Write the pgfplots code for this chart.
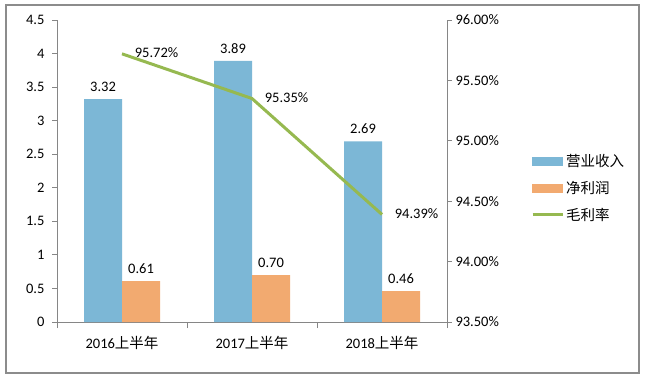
\documentclass[border=0pt]{standalone}
\usepackage{fontspec}
\setmainfont{Carlito}
\newfontfamily\cjk{Noto Sans CJK SC}
\usepackage{pgfplots}
\pgfplotsset{compat=1.18}
\definecolor{cblue}{RGB}{124,183,214}
\definecolor{corange}{RGB}{242,170,112}
\definecolor{cgreen}{RGB}{150,185,80}
\definecolor{axgray}{RGB}{134,134,134}
\definecolor{framegray}{RGB}{140,140,140}
\newcommand{\lblfont}{\fontsize{14.5bp}{17bp}\selectfont}
\begin{document}
\begin{tikzpicture}[x=1bp,y=1bp]
\useasboundingbox (0,0) rectangle (645,378);
\fill[white] (0,0) rectangle (645,378);
\draw[line width=2.2bp, framegray] (6,5) rectangle (639,373);
\begin{axis}[
  at={(57bp,56bp)}, anchor=south west,
  width=390bp, height=302bp, scale only axis,
  xmin=-0.5, xmax=2.5, ymin=0, ymax=4.5,
  ytick={0,0.5,1,1.5,2,2.5,3,3.5,4,4.5},
  xtick={0,1,2},
  xticklabels={2016{\cjk 上半年},2017{\cjk 上半年},2018{\cjk 上半年}},
  minor xtick={-0.5,0.5,1.5,2.5},
  major x tick style={draw=none},
  minor tick length=6bp, major tick length=5bp,
  tick align=outside,
  axis x line*=bottom, axis y line*=left,
  axis line style={-, draw=axgray, line width=0.8bp},
  tick style={draw=axgray, line width=0.8bp},
  /pgf/number format/assume math mode=true,
  tick label style={font=\lblfont},
  y tick label style={xshift=-4bp},
  x tick label style={yshift=-6bp},
  ybar=0pt, bar width=38bp,
  clip=false,
  nodes near coords={\pgfmathprintnumber[fixed,fixed zerofill,precision=2]{\pgfplotspointmeta}},
  every node near coord/.append style={font=\lblfont, text=black, yshift=4bp, /pgf/number format/assume math mode=true},
]
\addplot[fill=cblue, draw=none] coordinates {(0,3.32) (1,3.89) (2,2.69)};
\addplot[fill=corange, draw=none] coordinates {(0,0.61) (1,0.70) (2,0.46)};
\end{axis}
\begin{axis}[
  at={(57bp,56bp)}, anchor=south west,
  width=390bp, height=302bp, scale only axis,
  xmin=-0.5, xmax=2.5, ymin=93.5, ymax=96,
  ytick={93.5,94,94.5,95,95.5,96},
  yticklabel={\pgfmathprintnumber[fixed,fixed zerofill,precision=2]{\tick}\%},
  axis x line=none, axis y line*=right,
  axis line style={-, draw=axgray, line width=0.8bp},
  tick style={draw=axgray, line width=0.8bp},
  major tick length=5bp, tick align=outside,
  /pgf/number format/assume math mode=true,
  tick label style={font=\lblfont},
  clip=false,
  legend style={draw=none, fill=none, font=\lblfont\cjk, at={(axis description cs:1.215,0.562)}, anchor=north west, row sep=9bp, inner sep=0pt, cells={anchor=west}},
]
\addlegendimage{legend image code/.code={\fill[cblue] (0bp,-4bp) rectangle (30bp,4bp);}}
\addlegendentry{营业收入}
\addlegendimage{legend image code/.code={\fill[corange] (0bp,-4bp) rectangle (30bp,4bp);}}
\addlegendentry{净利润}
\addlegendimage{legend image code/.code={\draw[cgreen, line width=3bp] (0bp,0bp) -- (30bp,0bp);}}
\addlegendentry{毛利率}
\addplot[cgreen, line width=3bp, mark=none,
  nodes near coords={\pgfmathprintnumber[fixed,fixed zerofill,precision=2]{\pgfplotspointmeta}\%},
  every node near coord/.append style={font=\lblfont, text=black, anchor=west, xshift=8bp, yshift=1bp, /pgf/number format/assume math mode=true},
] coordinates {(0,95.72) (1,95.35) (2,94.39)};
\end{axis}
\end{tikzpicture}
\end{document}
